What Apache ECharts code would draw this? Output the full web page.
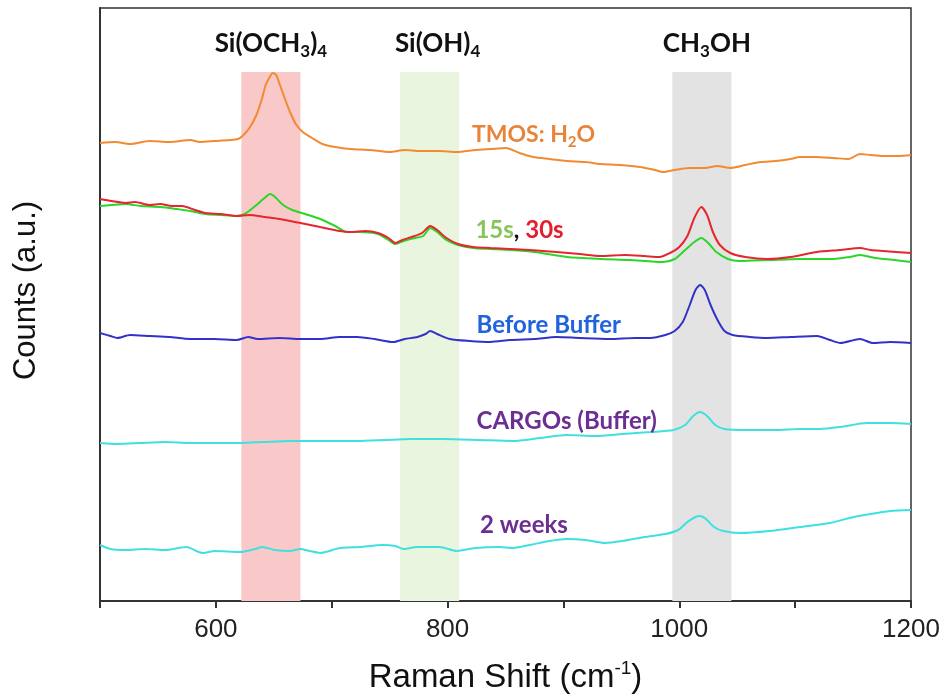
<!DOCTYPE html>
<html><head><meta charset="utf-8">
<script src="https://cdn.jsdelivr.net/npm/echarts@6/dist/echarts.min.js"></script>
<style>html,body{margin:0;padding:0;background:#fff}#c{width:947px;height:700px}</style>
</head><body><div id="c"></div>
<script>
// Tick labels shown on x axis
const xTickLabels = [600, 800, 1000, 1200];
// Band ranges (cm-1)
const bandSiOCH3 = [622, 673];
const bandSiOH = [759, 810];
const bandCH3OH = [994, 1045];

// Spectra: [Raman shift (cm-1), counts (a.u., offset)]
const tmosH2O = [[500,458],[513,459],[526,457],[543,460],[560,459],[578,461],[586,459],[599,460],[612,461],[619,462],[623,465],[629,473],[635,486],[640,503],[643,516],[647,525],[649,528],[652,526],[655,517],[660,501],[664,489],[669,477],[675,469],[683,463],[692,457],[703,454],[716,452],[733,451],[750,449],[763,451],[776,450],[793,450],[808,449],[824,451],[837,452],[850,453],[854,452],[862,448],[874,444],[888,442],[903,440],[919,439],[932,437],[949,436],[966,434],[979,431],[986,429],[996,431],[1009,433],[1022,433],[1033,435],[1044,433],[1057,436],[1070,439],[1083,440],[1096,442],[1104,444],[1117,444],[1133,443],[1146,442],[1156,447],[1165,446],[1176,445],[1189,445],[1200,446]];
const s30 = [[500,402],[510,400],[522,398],[530,399],[543,396],[552,397],[562,395],[571,395],[582,391],[591,388],[604,387],[618,385],[629,386],[642,384],[655,382],[673,378],[690,374],[707,370],[716,369],[729,370],[740,368],[749,363],[755,358],[761,361],[769,364],[778,368],[785,375],[791,371],[799,363],[809,357],[822,354],[837,353],[854,352],[871,351],[894,349],[914,347],[932,345],[953,346],[970,345],[983,344],[992,348],[1000,354],[1007,365],[1013,383],[1019,394],[1024,386],[1029,369],[1035,356],[1044,348],[1057,344],[1076,342],[1096,344],[1119,349],[1139,351],[1156,353],[1165,351],[1176,350],[1200,348]];
const s15 = [[500,395],[510,396],[522,397],[535,395],[552,394],[566,392],[578,390],[591,387],[604,386],[618,385],[625,387],[634,395],[641,402],[647,407],[652,403],[658,396],[666,391],[677,387],[690,382],[703,375],[713,369],[724,369],[740,367],[749,361],[755,357],[762,360],[772,363],[779,365],[785,373],[791,369],[799,361],[809,356],[822,353],[837,352],[854,351],[875,349],[903,344],[932,342],[957,341],[986,339],[996,342],[1005,351],[1013,359],[1019,363],[1025,358],[1032,349],[1042,342],[1052,340],[1078,341],[1104,342],[1133,342],[1147,344],[1156,346],[1169,343],[1186,341],[1200,339]];
const beforeBuffer = [[500,268],[509,265],[515,263],[526,266],[543,265],[560,264],[578,262],[599,262],[618,261],[628,264],[636,262],[655,263],[673,262],[690,262],[707,264],[722,264],[737,262],[753,259],[763,262],[774,264],[781,267],[785,270],[791,267],[802,262],[819,260],[837,259],[854,261],[875,262],[894,264],[914,263],[940,262],[962,263],[975,263],[988,266],[996,270],[1003,279],[1009,296],[1014,311],[1018,316],[1022,311],[1027,296],[1033,281],[1039,270],[1046,266],[1061,264],[1076,263],[1096,264],[1119,265],[1130,261],[1139,258],[1156,262],[1167,258],[1182,259],[1200,258]];
const cargosBuffer = [[500,158],[515,157],[535,158],[556,159],[578,158],[599,158],[621,158],[642,159],[664,160],[690,160],[722,160],[746,161],[768,162],[796,162],[828,161],[856,160],[880,163],[903,166],[927,165],[951,167],[975,169],[995,171],[1005,176],[1012,185],[1018,189],[1024,185],[1031,176],[1039,172],[1058,171],[1083,171],[1104,172],[1121,172],[1139,174],[1162,178],[1182,178],[1200,177]];
const twoWeeks = [[500,56],[509,52],[522,51],[539,52],[556,51],[575,54],[583,50],[589,48],[599,50],[621,49],[634,52],[640,54],[651,51],[664,50],[673,52],[681,50],[690,48],[707,53],[724,54],[744,56],[755,55],[762,52],[774,54],[793,54],[808,50],[824,53],[845,54],[856,53],[871,56],[888,60],[903,62],[919,61],[936,58],[951,60],[970,64],[988,67],[999,71],[1007,79],[1014,84],[1018,85],[1023,82],[1030,74],[1038,70],[1052,68],[1078,70],[1104,74],[1130,78],[1147,83],[1165,87],[1182,90],[1200,91]];

// Curve label anchor points (data coords)
const labelTMOS = [821, 466];
const label1530 = [824, 371];
const labelBefore = [825, 276];
const labelCargos = [825, 180];
const labelWeeks = [828, 76];
const bandTop = 529;

const chart = echarts.init(document.getElementById('c'));
const LBL = 'Lato, "Open Sans", sans-serif';
const AX = '"Liberation Sans", Arial, sans-serif';

function subRich(size, color) {
  return {
    m: { fontFamily: LBL, fontWeight: 'bold', fontSize: size, color: color, lineHeight: size + 6 },
    s: { fontFamily: LBL, fontWeight: 'bold', fontSize: Math.round(size * 0.65), color: color, lineHeight: Math.round(size * 0.65), verticalAlign: 'bottom' }
  };
}
function markLabel(coord, text, rich) {
  return {
    symbol: 'circle', symbolSize: 0, silent: true, animation: false,
    data: [{ coord: coord }],
    label: { show: true, position: 'right', distance: 0, formatter: text, rich: rich }
  };
}
function band(range, text, color, dx) {
  return [{ xAxis: range[0], yAxis: bandTop, itemStyle: { color: color },
    label: { formatter: text, offset: [dx, 0] } }, { xAxis: range[1], yAxis: 0 }];
}
function lineSeries(name, data, color, extra) {
  return Object.assign({ name: name, type: 'line', data: data, symbol: 'none', smooth: 0.25,
    lineStyle: { color: color, width: 2 }, z: 3, animation: false }, extra || {});
}
function plainRich(color) {
  return { m: { fontFamily: LBL, fontWeight: 'bold', fontSize: 24, color: color } };
}

chart.setOption({
  backgroundColor: '#fff',
  grid: { left: 100, right: 36, top: 8, bottom: 99, show: true, borderColor: '#333', borderWidth: 1.5 },
  xAxis: {
    type: 'value', min: 500, max: 1200, interval: 100,
    name: '{n|Raman Shift (cm}{p|-1}{n|)}', nameLocation: 'middle', nameGap: 58,
    nameTextStyle: { rich: {
      n: { fontFamily: AX, fontSize: 33, color: '#111', lineHeight: 38 },
      p: { fontFamily: AX, fontSize: 19, color: '#111', lineHeight: 19, verticalAlign: 'top' } } },
    axisLine: { show: true, lineStyle: { color: '#333', width: 2 } },
    axisTick: { show: true, length: 7, lineStyle: { color: '#333', width: 2 } },
    axisLabel: { margin: 16, fontFamily: AX, fontSize: 26, color: '#222',
      formatter: v => xTickLabels.includes(v) ? String(v) : '' },
    splitLine: { show: false }
  },
  yAxis: {
    type: 'value', min: 0, max: 593,
    name: 'Counts (a.u.)', nameLocation: 'middle', nameGap: 58, nameRotate: 90,
    nameTextStyle: { fontFamily: AX, fontSize: 31, color: '#111', padding: [0, 0, 0, 28] },
    axisLine: { show: true, lineStyle: { color: '#333', width: 2 } },
    axisTick: { show: false }, axisLabel: { show: false }, splitLine: { show: false }
  },
  series: [
    { type: 'line', data: [], z: 1, animation: false,
      markArea: { silent: true, animation: false,
        label: { show: true, position: 'top', distance: 12, rich: subRich(26, '#111') },
        data: [
          band(bandSiOCH3, '{m|Si(OCH}{s|3}{m|)}{s|4}', '#F9C8C8', 0),
          band(bandSiOH, '{m|Si(OH)}{s|4}', '#E9F5DE', 8),
          band(bandCH3OH, '{m|CH}{s|3}{m|OH}', '#E3E3E3', 5)
        ]
      } },
    lineSeries('TMOS: H2O', tmosH2O, '#F28A30', {
      markPoint: markLabel(labelTMOS, '{m|TMOS: H}{s|2}{m|O}', subRich(23, '#E8843A')) }),
    lineSeries('15s', s15, '#2BD62B', {
      markPoint: markLabel(label1530, '{g|15s}{k|, }{r|30s}', {
        g: { fontFamily: LBL, fontWeight: 'bold', fontSize: 24, color: '#86C55A' },
        k: { fontFamily: LBL, fontWeight: 'bold', fontSize: 24, color: '#111' },
        r: { fontFamily: LBL, fontWeight: 'bold', fontSize: 24, color: '#E51E2E' } }) }),
    lineSeries('30s', s30, '#E5262E'),
    lineSeries('Before Buffer', beforeBuffer, '#3232C8', {
      markPoint: markLabel(labelBefore, '{m|Before Buffer}', plainRich('#2163DD')) }),
    lineSeries('CARGOs (Buffer)', cargosBuffer, '#3FE0E0', {
      markPoint: markLabel(labelCargos, '{m|CARGOs (Buffer)}', plainRich('#6B2E92')) }),
    lineSeries('2 weeks', twoWeeks, '#3FE0E0', {
      markPoint: markLabel(labelWeeks, '{m|2 weeks}', plainRich('#6B2E92')) })
  ]
});
</script></body></html>
